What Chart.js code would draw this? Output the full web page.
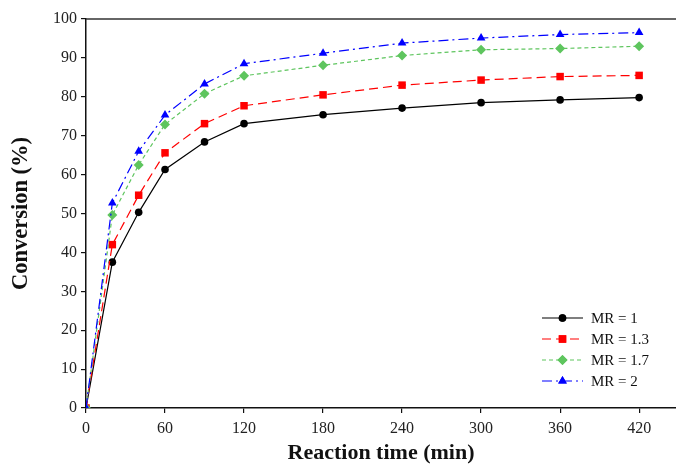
<!DOCTYPE html>
<html>
<head>
<meta charset="utf-8">
<script src="https://cdn.jsdelivr.net/npm/chart.js@4/dist/chart.umd.min.js"></script>
<style>
  html, body { margin: 0; padding: 0; background: #fff; }
  #wrap { width: 676px; height: 464px; position: relative; }
</style>
</head>
<body>
<div id="wrap"><canvas id="c" width="676" height="464"></canvas></div>
<script>
// Reaction time (min) and conversion (%) for each molar ratio
const times = [0, 20, 40, 60, 90, 120, 180, 240, 300, 360, 420];
const mr1  = [0, 37.5, 50.3, 61.3, 68.4, 73.1, 75.4, 77.1, 78.5, 79.2, 79.8];
const mr13 = [0, 42.0, 54.7, 65.6, 73.1, 77.7, 80.5, 83.0, 84.3, 85.2, 85.5];
const mr17 = [0, 49.6, 62.5, 72.9, 80.8, 85.4, 88.1, 90.6, 92.1, 92.4, 93.0];
const mr2  = [0, 52.7, 66.0, 75.3, 83.3, 88.5, 91.2, 93.8, 95.1, 96.0, 96.5];
const seriesLabels = ['MR = 1', 'MR = 1.3', 'MR = 1.7', 'MR = 2'];
const xTicks = [0, 60, 120, 180, 240, 300, 360, 420];
const yTicks = [0, 10, 20, 30, 40, 50, 60, 70, 80, 90, 100];

const serif = "'Liberation Serif', 'Times New Roman', serif";

function pts(ys) { return times.map((t, i) => ({ x: t, y: ys[i] })); }

const styles = [
  { color: '#000000', dash: [],            point: 'circle',   radius: 3.8, order: 3 },
  { color: '#ff0000', dash: [9, 5],        point: 'rect',     radius: 5.3, order: 2 },
  { color: '#5ec55e', dash: [4, 3],        point: 'rectRot',  radius: 5,   order: 1 },
  { color: '#0000ff', dash: [10, 4, 2, 4], point: 'triangle', radius: 5,   order: 0 }
];
const values = [mr1, mr13, mr17, mr2];

const datasets = values.map((v, i) => ({
  label: seriesLabels[i],
  data: pts(v),
  borderColor: styles[i].color,
  backgroundColor: styles[i].color,
  borderWidth: 1.2,
  borderDash: styles[i].dash,
  pointStyle: styles[i].point,
  pointRadius: styles[i].radius,
  pointBorderWidth: 0,
  pointBackgroundColor: styles[i].color,
  tension: 0,
  order: styles[i].order
}));

// Legend drawn inside the lower-right of the plot area
const insideLegend = {
  id: 'insideLegend',
  afterDatasetsDraw(chart) {
    const { ctx, chartArea } = chart;
    const x0 = chartArea.right - 134, x1 = chartArea.right - 93, tx = chartArea.right - 85;
    ctx.save();
    chart.data.datasets.forEach((ds, i) => {
      const y = chartArea.bottom - 90 + 21 * i;
      ctx.strokeStyle = ds.borderColor;
      ctx.lineWidth = ds.borderWidth;
      ctx.setLineDash(ds.borderDash || []);
      ctx.beginPath();
      ctx.moveTo(x0, y);
      ctx.lineTo(x1, y);
      ctx.stroke();
      ctx.setLineDash([]);
      ctx.fillStyle = ds.pointBackgroundColor;
      ctx.strokeStyle = ds.pointBackgroundColor;
      Chart.helpers.drawPoint(ctx, { pointStyle: ds.pointStyle, radius: ds.pointRadius, rotation: 0, borderWidth: 0 }, (x0 + x1) / 2, y);
      ctx.fill();
      ctx.fillStyle = '#111';
      ctx.font = '15px ' + serif;
      ctx.textBaseline = 'middle';
      ctx.textAlign = 'left';
      ctx.fillText(ds.label, tx, y + 1);
    });
    ctx.restore();
  }
};

// Top frame line across the plot area
const topFrame = {
  id: 'topFrame',
  beforeDatasetsDraw(chart) {
    const { ctx, chartArea } = chart;
    ctx.save();
    ctx.strokeStyle = '#333';
    ctx.lineWidth = 1.5;
    ctx.beginPath();
    ctx.moveTo(chartArea.left, chartArea.top);
    ctx.lineTo(chart.width, chartArea.top);
    ctx.stroke();
    ctx.restore();
  }
};

new Chart(document.getElementById('c'), {
  type: 'line',
  data: { datasets },
  plugins: [topFrame, insideLegend],
  options: {
    responsive: false,
    animation: false,
    layout: { autoPadding: false, padding: { top: 19, right: 0, left: 0, bottom: 0 } },
    plugins: { legend: { display: false }, tooltip: { enabled: false } },
    scales: {
      x: {
        type: 'linear',
        min: 0,
        max: 448,
        afterBuildTicks(scale) { scale.ticks = xTicks.map(v => ({ value: v })); },
        afterFit(scale) { scale.height = 56; scale.paddingRight = 0; scale.paddingLeft = 0; },
        border: { color: '#111', width: 1.5 },
        grid: { drawOnChartArea: false, drawTicks: true, tickLength: 5, color: '#111', lineWidth: 1.2 },
        ticks: { color: '#222', font: { family: serif, size: 16 }, padding: 6, maxRotation: 0 },
        title: {
          display: true, text: 'Reaction time (min)', color: '#111',
          font: { family: serif, size: 22, weight: 'bold' }, padding: { top: 0, bottom: -3 }
        }
      },
      y: {
        type: 'linear',
        min: 0,
        max: 100,
        afterBuildTicks(scale) { scale.ticks = yTicks.map(v => ({ value: v })); },
        afterFit(scale) { scale.width = 86; scale.paddingTop = 0; scale.paddingBottom = 0; },
        border: { color: '#111', width: 1.5 },
        grid: { drawOnChartArea: false, drawTicks: true, tickLength: 5, color: '#111', lineWidth: 1.2 },
        ticks: { color: '#222', font: { family: serif, size: 16 }, padding: 4 },
        title: {
          display: true, text: 'Conversion (%)', color: '#111',
          font: { family: serif, size: 22.5, weight: 'bold' }, padding: { top: 8, bottom: 0 }
        }
      }
    }
  }
});
</script>
</body>
</html>
